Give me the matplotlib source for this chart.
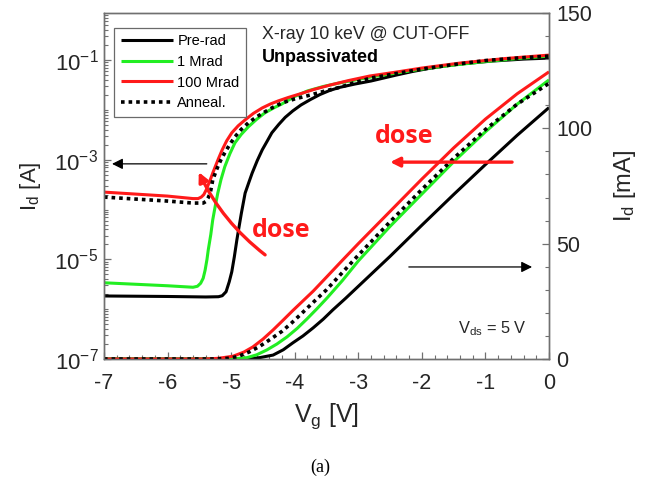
import numpy as np
import matplotlib
matplotlib.use("Agg")
import matplotlib.pyplot as plt
from matplotlib.ticker import FixedLocator, NullFormatter, MultipleLocator

plt.rcParams['font.family'] = ['Liberation Sans', 'DejaVu Sans']
plt.rcParams['mathtext.fontset'] = 'custom'
plt.rcParams['mathtext.rm'] = 'Liberation Sans'
plt.rcParams['mathtext.it'] = 'Liberation Sans:italic'
plt.rcParams['mathtext.bf'] = 'Liberation Sans:bold'

# ---- data ----
# log scale (left axis): gate voltage [V] and log10(Id [A])
vg_pre_log = [-7.0, -6.0, -5.4, -5.2, -5.14, -5.08, -5.03, -4.99, -4.95, -4.91, -4.88, -4.84,
              -4.78, -4.72, -4.67, -4.59, -4.51, -4.43, -4.36, -4.25, -4.15, -4.03, -3.9,
              -3.75, -3.6, -3.45, -3.3, -3.05, -2.8, -2.6, -2.4, -2.15, -1.9, -1.65, -1.4,
              -0.9, -0.4, 0.0]
id_pre_log = [-5.735, -5.745, -5.755, -5.75, -5.73, -5.65, -5.45, -5.25, -4.95, -4.61, -4.38,
              -4.08, -3.67, -3.45, -3.27, -3.02, -2.80, -2.62, -2.46, -2.29, -2.15, -2.02,
              -1.90, -1.79, -1.69, -1.61, -1.55, -1.48, -1.42, -1.36, -1.30, -1.23, -1.17,
              -1.12, -1.08, -1.02, -0.98, -0.96]

vg_1m_log = [-7.0, -6.5, -6.0, -5.6, -5.53, -5.48, -5.44, -5.41, -5.38, -5.36, -5.32, -5.29,
             -5.25, -5.21, -5.16, -5.10, -5.02, -4.94, -4.84, -4.73, -4.6, -4.47, -4.33,
             -4.20, -4.0, -3.8, -3.55, -3.3, -3.05, -2.8, -2.4, -2.0, -1.5, -1.0, -0.5, 0.0]
id_1m_log = [-5.47, -5.50, -5.53, -5.56, -5.54, -5.48, -5.38, -5.22, -5.00, -4.81, -4.50, -4.21,
             -3.93, -3.67, -3.40, -3.14, -2.88, -2.66, -2.49, -2.34, -2.19, -2.06, -1.96,
             -1.88, -1.73, -1.62, -1.53, -1.46, -1.40, -1.34, -1.26, -1.18, -1.10, -1.03,
             -0.97, -0.92]

vg_100m_log = [-7.0, -6.5, -6.0, -5.6, -5.52, -5.47, -5.43, -5.39, -5.36, -5.33, -5.29, -5.25,
               -5.20, -5.14, -5.07, -4.99, -4.89, -4.78, -4.65, -4.51, -4.38, -4.26, -4.1,
               -3.92, -3.7, -3.44, -3.15, -2.82, -2.4, -2.0, -1.4, -0.7, 0.0]
id_100m_log = [-3.65, -3.69, -3.73, -3.78, -3.78, -3.75, -3.70, -3.60, -3.50, -3.41, -3.27, -3.14,
               -2.98, -2.80, -2.62, -2.46, -2.32, -2.20, -2.07, -1.96, -1.88, -1.82, -1.75,
               -1.68, -1.59, -1.50, -1.41, -1.32, -1.24, -1.16, -1.06, -0.97, -0.90]

vg_ann_log = [-7.0, -6.5, -6.0, -5.6, -5.44, -5.40, -5.36, -5.33, -5.31, -5.29, -5.25, -5.21,
              -5.16, -5.10, -5.02, -4.94, -4.84, -4.73, -4.6, -4.47, -4.33, -4.20, -4.0,
              -3.81, -3.55, -3.3, -3.05, -2.8, -2.4, -2.0, -1.5, -1.0, -0.5, 0.0]
id_ann_log = [-3.75, -3.79, -3.83, -3.87, -3.87, -3.84, -3.76, -3.67, -3.55, -3.41, -3.27, -3.14,
              -3.00, -2.86, -2.69, -2.54, -2.39, -2.26, -2.14, -2.04, -1.94, -1.86, -1.78,
              -1.72, -1.63, -1.55, -1.45, -1.36, -1.27, -1.18, -1.09, -1.01, -0.96, -0.92]

# linear scale (right axis): gate voltage [V] and Id [mA]
vg_pre_lin = [-7.0, -4.75, -4.55, -4.34, -4.18, -4.03, -3.87, -3.71, -3.55, -3.40, -3.2,
              -3.0, -2.5, -2.0, -1.5, -1.0, -0.5, 0.0]
id_pre_lin = [0.0, 0.0, 0.6, 1.7, 4.0, 7.0, 10.0, 13.5, 17.3, 21.3, 26.3,
              31.5, 44.5, 58.0, 71.3, 84.3, 97.0, 109.0]

vg_1m_lin = [-7.0, -5.13, -4.95, -4.75, -4.6, -4.44, -4.28, -4.12, -3.96, -3.81, -3.65, -3.49,
             -3.25, -3.0, -2.5, -2.0, -1.5, -1.0, -0.5, 0.0]
id_1m_lin = [0.0, 0.0, 0.1, 0.6, 1.8, 3.9, 6.5, 9.6, 13.3, 17.3, 21.8, 26.5,
             34.0, 42.5, 57.5, 71.5, 85.5, 98.5, 110.5, 121.0]

vg_100m_lin = [-7.0, -5.4, -5.2, -4.97, -4.8, -4.66, -4.5, -4.34, -4.18, -4.03, -3.87, -3.71,
               -3.5, -3.25, -3.0, -2.5, -2.0, -1.5, -1.0, -0.5, 0.0]
id_100m_lin = [0.0, 0.0, 0.3, 1.2, 3.0, 5.2, 8.6, 12.6, 16.9, 21.0, 25.2, 29.4,
               35.5, 42.8, 50.0, 64.0, 78.0, 91.5, 104.0, 115.0, 124.5]

vg_ann_lin = [-7.0, -5.25, -5.05, -4.9, -4.72, -4.55, -4.38, -4.2, -4.05, -3.9, -3.7, -3.5,
              -3.25, -3.0, -2.5, -2.0, -1.5, -1.0, -0.5, 0.0]
id_ann_lin = [0.0, 0.0, 0.3, 1.0, 3.0, 5.5, 8.6, 12.0, 15.6, 19.5, 24.8, 30.0,
              37.5, 45.0, 59.5, 73.5, 87.0, 99.5, 110.5, 119.5]

labels = ["Pre-rad", "1 Mrad", "100 Mrad", "Anneal."]
log_ticks = [1e-7, 1e-5, 1e-3, 1e-1]
log_ticklabels = [r"$10^{-7}$", r"$10^{-5}$", r"$10^{-3}$", r"$10^{-1}$"]
lin_ticks = [0, 50, 100, 150]
x_ticks = [-7, -6, -5, -4, -3, -2, -1, 0]

# ---- styles ----
styles = [dict(color="black", lw=2.2, ls="-"),
          dict(color="#22ee22", lw=2.2, ls="-"),
          dict(color="#ff1a1a", lw=2.2, ls="-"),
          dict(color="black", lw=2.6, ls=(0, (1, 1.1)))]
axis_col = "#707070"
text_col = "#262626"

fig = plt.figure(figsize=(6.49, 4.82), dpi=100)
ax = fig.add_axes([104 / 649, 1 - 359 / 482, 445 / 649, 346 / 482])
ax2 = ax.twinx()

log_sets = [(vg_pre_log, id_pre_log), (vg_1m_log, id_1m_log),
            (vg_100m_log, id_100m_log), (vg_ann_log, id_ann_log)]
lin_sets = [(vg_pre_lin, id_pre_lin), (vg_1m_lin, id_1m_lin),
            (vg_100m_lin, id_100m_lin), (vg_ann_lin, id_ann_lin)]

handles = []
for (vx, vy), st, lab in zip(log_sets, styles, labels):
    h, = ax.plot(vx, 10 ** np.array(vy), label=lab, solid_capstyle="butt",
                 solid_joinstyle="round", **st)
    handles.append(h)
for (vx, vy), st in zip(lin_sets, styles):
    ax2.plot(vx, vy, solid_capstyle="butt", solid_joinstyle="round", **st)

ax.set_yscale("log")
ax.set_xlim(-7, 0)
ax.set_ylim(1e-7, 10 ** -0.055)
ax2.set_ylim(0, 150)

ax.set_xticks(x_ticks)
ax.set_xticklabels([str(t) for t in x_ticks])
ax.xaxis.set_minor_locator(MultipleLocator(0.2))
ax.yaxis.set_major_locator(FixedLocator(log_ticks))
ax.set_yticklabels(log_ticklabels)
minor = [s * 10.0 ** e for e in range(-7, 0) for s in range(1, 10)]
ax.yaxis.set_minor_locator(FixedLocator(minor))
ax.yaxis.set_minor_formatter(NullFormatter())
ax2.set_yticks(lin_ticks)
ax2.yaxis.set_minor_locator(MultipleLocator(10))

for a in (ax, ax2):
    for sp in a.spines.values():
        sp.set_color(axis_col)
        sp.set_linewidth(1.0)
    a.tick_params(which="major", direction="in", length=5, width=0.9, color=axis_col,
                  labelcolor=text_col, labelsize=15.5)
    a.tick_params(which="minor", direction="in", length=3, width=0.8, color=axis_col)
ax.tick_params(axis="x", pad=10)
ax.tick_params(axis="y", pad=4, labelsize=16)
ax2.tick_params(axis="y", pad=5)

ax.set_xlabel(r"V$_\mathregular{g}$ [V]", fontsize=18, color=text_col, labelpad=5)
ax.set_ylabel(r"I$_\mathregular{d}$ [A]", fontsize=16, color=text_col, labelpad=8)
ax2.set_ylabel(r"I$_\mathregular{d}$ [mA]", fontsize=17, color=text_col, labelpad=14)

leg = ax2.legend(handles, labels, loc="upper left", bbox_to_anchor=(0.0225, 0.957),
                 borderaxespad=0, fontsize=10.5, handlelength=3.6, handletextpad=0.3,
                 labelspacing=0.45, fancybox=False, framealpha=1, borderpad=0.45)
leg.get_frame().set_edgecolor("#6a6a6a")
leg.get_frame().set_linewidth(0.9)

# ---- annotations ----
ax2.text(0.355, 0.939, "X-ray 10 keV @ CUT-OFF", transform=ax2.transAxes,
         fontsize=12.8, color=text_col, va="center", ha="left")
ax2.text(0.355, 0.871, "Unpassivated", transform=ax2.transAxes,
         fontsize=13, fontweight="bold", color="black", va="center", ha="left")
ax2.text(0.796, 0.088, r"V$_\mathregular{ds}$ = 5 V", transform=ax2.transAxes,
         fontsize=11.8, color=text_col, va="center", ha="left")

ax2.annotate("", xy=(0.018, 0.564), xytext=(0.231, 0.564), xycoords="axes fraction",
             arrowprops=dict(arrowstyle="-|>", color="black", lw=0.9,
                             mutation_scale=16, shrinkA=0, shrinkB=0))
ax2.annotate("", xy=(0.962, 0.266), xytext=(0.685, 0.266), xycoords="axes fraction",
             arrowprops=dict(arrowstyle="-|>", color="black", lw=0.9,
                             mutation_scale=16, shrinkA=0, shrinkB=0))
ax2.annotate("", xy=(0.643, 0.569), xytext=(0.917, 0.569), xycoords="axes fraction",
             arrowprops=dict(arrowstyle="-|>", color="#ff1a1a", lw=2.4,
                             mutation_scale=14, shrinkA=0, shrinkB=0))
ax2.annotate("", xy=(0.213, 0.540), xytext=(0.362, 0.301), xycoords="axes fraction",
             arrowprops=dict(arrowstyle="-|>", color="#ff1a1a", lw=2.4,
                             mutation_scale=14, shrinkA=0, shrinkB=0,
                             connectionstyle="arc3,rad=-0.12"))
ax2.text(0.398, 0.372, "dose", transform=ax2.transAxes, fontsize=18,
         fontweight="bold", color="#ff1a1a", ha="center", va="center", family="Open Sans")
ax2.text(0.674, 0.644, "dose", transform=ax2.transAxes, fontsize=18,
         fontweight="bold", color="#ff1a1a", ha="center", va="center", family="Open Sans")

fig.text(320 / 649, 1 - 467 / 482, "(a)", fontsize=13, family="Liberation Serif",
         ha="center", va="center", color="black")

fig.savefig("out.png", dpi=100)
